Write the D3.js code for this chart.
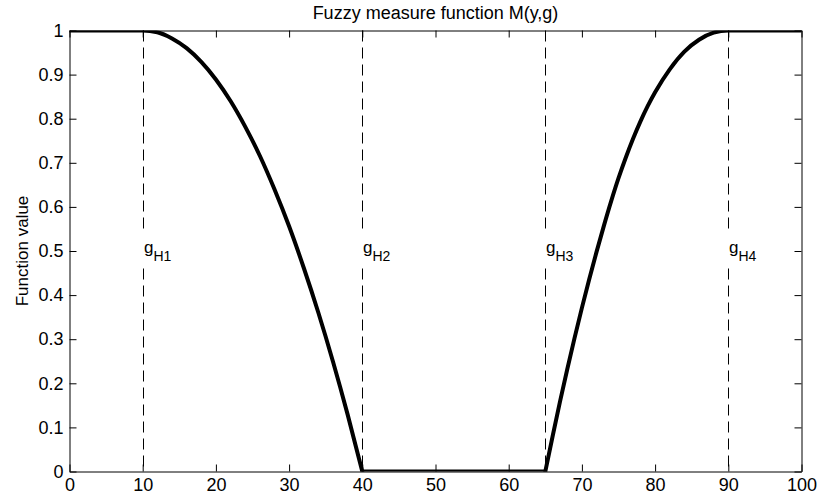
<!DOCTYPE html>
<html>
<head>
<meta charset="utf-8">
<script src="https://cdn.jsdelivr.net/npm/d3@7"></script>
<style>
  html, body { margin: 0; padding: 0; background: #fff; }
  svg { display: block; }
  text { font-family: "Liberation Sans", Arial, sans-serif; fill: #000; }
</style>
</head>
<body>
<svg id="chart" width="820" height="501"></svg>
<script>
// ---- data ----
const xValues = [0, 10, 12, 14, 16, 18, 20, 22, 24, 26, 28, 30, 32, 34, 36, 38, 40,
                 65, 66, 67, 68, 69, 70, 71, 72, 73, 74, 75, 76, 77, 78, 79, 80, 82, 84, 86, 88, 90, 100];
const yValues = [1, 1, 0.996, 0.982, 0.96, 0.929, 0.889, 0.84, 0.782, 0.716, 0.64, 0.556, 0.462, 0.36, 0.249, 0.129, 0,
                 0, 0.08, 0.158, 0.232, 0.303, 0.371, 0.436, 0.498, 0.557, 0.613, 0.665, 0.712, 0.755, 0.794, 0.829, 0.86, 0.912, 0.952, 0.979, 0.995, 1, 1];
const segmentBreaks = [40, 65];
const markerX = [10, 40, 65, 90];
const markerNames = ["H1", "H2", "H3", "H4"];
const markerLabelY = 0.5;
const xTicks = [0, 10, 20, 30, 40, 50, 60, 70, 80, 90, 100];
const yTicks = [0, 0.1, 0.2, 0.3, 0.4, 0.5, 0.6, 0.7, 0.8, 0.9, 1];
const titleText = "Fuzzy measure function M(y,g)";
const yLabelText = "Function value";

// ---- layout ----
const L = 69.5, R = 801.5, T = 30.5, B = 471.5;
const FS = 18;

const svg = d3.select("#chart");
const x = d3.scaleLinear().domain([0, 100]).range([L, R]);
const y = d3.scaleLinear().domain([0, 1]).range([B, T]);

svg.append("defs").append("clipPath").attr("id", "clip")
  .append("rect").attr("x", L).attr("y", T).attr("width", R - L).attr("height", B - T);

// dashed marker lines
svg.append("g").selectAll("line").data(markerX).join("line")
  .attr("x1", d => Math.round(x(d)) + 0.5).attr("x2", d => Math.round(x(d)) + 0.5)
  .attr("y1", y(1)).attr("y2", y(0))
  .attr("stroke", "#000").attr("stroke-width", 1)
  .attr("stroke-dasharray", "11,6");

// curve, drawn as pieces so the corners at the breaks stay sharp
const data = xValues.map((v, i) => ({x: v, y: yValues[i]}));
const pieces = [
  data.filter(d => d.x <= segmentBreaks[0]),
  data.filter(d => d.x >= segmentBreaks[0] && d.x <= segmentBreaks[1]),
  data.filter(d => d.x >= segmentBreaks[1])
];
const line = d3.line().x(d => x(d.x)).y(d => y(d.y)).curve(d3.curveMonotoneX);
svg.append("g").attr("clip-path", "url(#clip)")
  .selectAll("path").data(pieces).join("path")
  .attr("fill", "none").attr("stroke", "#000").attr("stroke-width", 4)
  .attr("stroke-linejoin", "round").attr("stroke-linecap", "round")
  .attr("d", line);

// marker labels with white background
markerX.forEach((mx, i) => {
  const g = svg.append("g");
  const bg = g.append("rect").attr("fill", "#fff");
  const t = g.append("text")
    .attr("x", Math.round(x(mx)) + 1)
    .attr("y", y(markerLabelY) + 2)
    .style("font-size", "17px");
  t.append("tspan").text("g");
  t.append("tspan").attr("dy", 8).style("font-size", "14px").text(markerNames[i]);
  const bb = t.node().getBBox();
  bg.attr("x", Math.round(x(mx)) - 1).attr("y", y(markerLabelY) - 21)
    .attr("width", bb.width + 4).attr("height", 38);
});

// axes
const fmt = d3.format("~g");
const axB = svg.append("g").attr("transform", `translate(0,${B})`)
  .call(d3.axisBottom(x).tickValues(xTicks).tickFormat(fmt).tickSizeInner(-7).tickSizeOuter(0).tickPadding(7));
const axL = svg.append("g").attr("transform", `translate(${L},0)`)
  .call(d3.axisLeft(y).tickValues(yTicks).tickFormat(fmt).tickSizeInner(-7).tickSizeOuter(0).tickPadding(6));
const axT = svg.append("g").attr("transform", `translate(0,${T})`)
  .call(d3.axisTop(x).tickValues(xTicks).tickFormat("").tickSizeInner(-7).tickSizeOuter(0));
const axR = svg.append("g").attr("transform", `translate(${R},0)`)
  .call(d3.axisRight(y).tickValues(yTicks).tickFormat("").tickSizeInner(-7).tickSizeOuter(0));
[axB, axL, axT, axR].forEach(a => {
  a.selectAll("path").attr("stroke", "#000");
  a.selectAll("line").attr("stroke", "#000");
  a.selectAll("text").style("font-size", FS + "px").attr("fill", "#000")
    .style("font-family", '"Liberation Sans", Arial, sans-serif');
});

// title
svg.append("text").attr("x", (L + R) / 2).attr("y", 19)
  .attr("text-anchor", "middle").style("font-size", FS + "px").text(titleText);

// y label
svg.append("text")
  .attr("transform", `translate(28,${(T + B) / 2}) rotate(-90)`)
  .attr("text-anchor", "middle").style("font-size", "17px").text(yLabelText);
</script>
</body>
</html>
